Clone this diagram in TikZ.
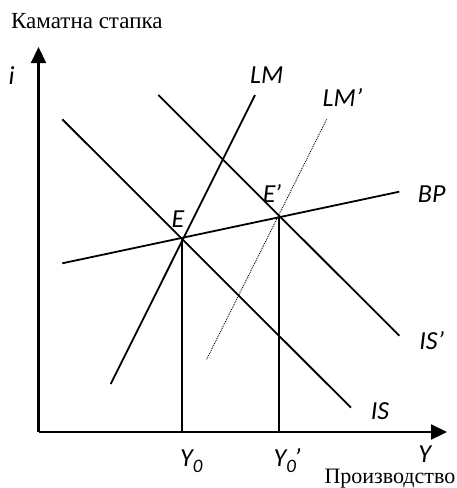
\documentclass[tikz,border=0pt]{standalone}
\usepackage{fontspec}
\setmainfont{Liberation Serif}
\newfontfamily\lblfont{Carlito}
\usetikzlibrary{arrows.meta}
\tikzset{
  curve/.style={line width=1.8pt, line cap=butt},
  dotcurve/.style={line width=0.9pt, densely dotted},
  axis/.style={line width=2.2pt, -{Triangle[length=16pt,width=15pt]}},
  drop/.style={line width=1.8pt},
  lbl/.style={inner sep=0pt, font=\lblfont\itshape\fontsize{26}{30}\selectfont},
  cyr/.style={inner sep=0pt, font=\fontsize{23}{27}\selectfont}
}
\newcommand{\lowsub}[1]{\raisebox{-0.25em}{\fontsize{19}{22}\selectfont #1}}
\begin{document}
\begin{tikzpicture}[x=1pt,y=-1pt]
\useasboundingbox (0,0) rectangle (457,488);
% coordinates
\coordinate (O) at (38.5,432);
\coordinate (Yt) at (38.5,47);
\coordinate (Xt) at (447,432);
\coordinate (LMa) at (110.7,384);
\coordinate (LMb) at (255,95);
\coordinate (LMpa) at (206.7,359.3);
\coordinate (LMpb) at (326.7,119.3);
\coordinate (ISa) at (62.3,119.3);
\coordinate (ISb) at (351,407.7);
\coordinate (ISpa) at (158.3,95);
\coordinate (ISpb) at (399.3,335.7);
\coordinate (BPa) at (62.3,263.3);
\coordinate (BPb) at (399.3,191.7);
\coordinate (E) at (182.3,238.5);
\coordinate (Ep) at (279,217.5);
\coordinate (E0) at (182.3,432);
\coordinate (Ep0) at (279,432);
% axes
\draw[axis] (O) -- (Yt);
\draw[axis] (O) -- (Xt);
% curves
\draw[curve] (LMa) -- (LMb);
\draw[dotcurve] (LMpa) -- (LMpb);
\draw[curve] (ISa) -- (ISb);
\draw[curve] (ISpa) -- (ISpb);
\draw[curve] (BPa) -- (BPb);
\draw[drop] (E) -- (E0);
\draw[drop] (Ep) -- (Ep0);
% labels
\node[cyr, anchor=base west] (tI) at (11,28.5) {Каматна стапка};
\node[cyr, anchor=base east, font=\fontsize{22}{26}\selectfont] (tY) at (455.5,483) {Производство};
\node[lbl, anchor=base] (li) at (11.7,84.5) {i};
\node[lbl, anchor=base] (lLM) at (266.7,83.5) {LM};
\node[lbl, anchor=base] (lLMp) at (342.5,106.5) {LM’};
\node[lbl, anchor=base] (lE) at (178,227.5) {E};
\node[lbl, anchor=base] (lEp) at (272,202.5) {E\kern-1pt’};
\node[lbl, anchor=base] (lBP) at (431.7,202.5) {BP};
\node[lbl, anchor=base] (lISp) at (431.7,349.5) {IS’};
\node[lbl, anchor=base] (lIS) at (380,419) {IS};
\node[lbl, anchor=base west] (lY0) at (180,466) {Y\lowsub{0}};
\node[lbl, anchor=base west] (lY0p) at (273.5,466) {Y\lowsub{0}\kern-2pt’};
\node[lbl, anchor=base] (lY) at (424.7,462.5) {Y};
\end{tikzpicture}
\end{document}
